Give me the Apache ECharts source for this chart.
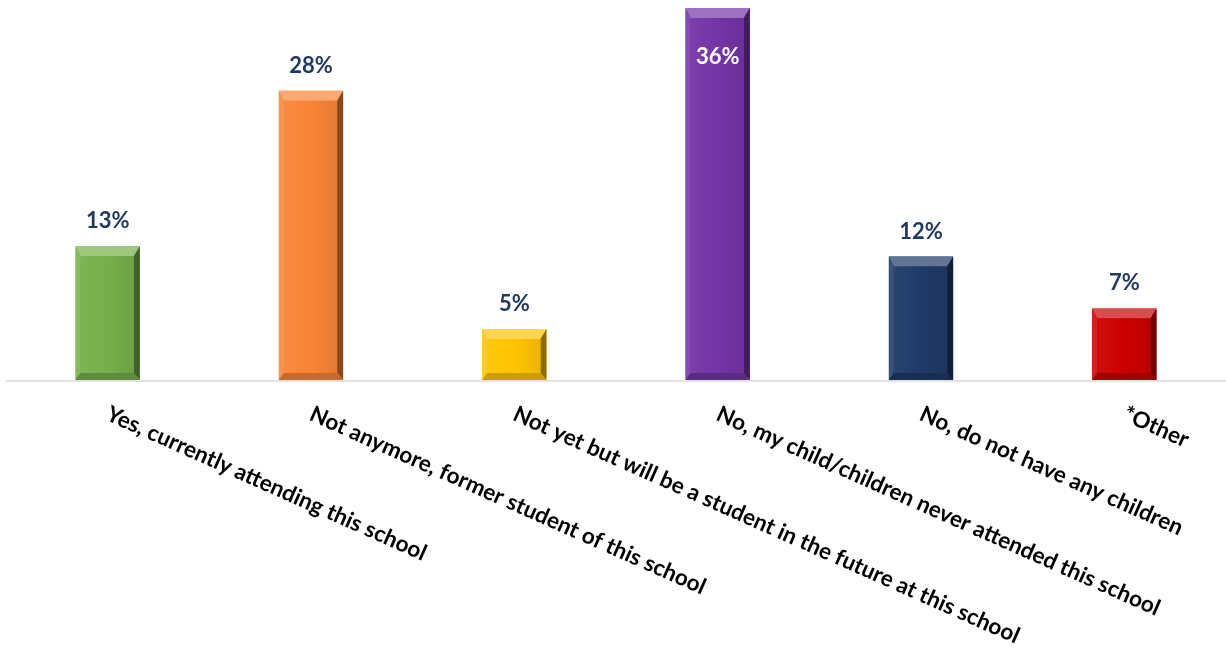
<!DOCTYPE html>
<html>
<head>
<meta charset="utf-8">
<script src="https://cdn.jsdelivr.net/npm/echarts@6/dist/echarts.min.js"></script>
<style>html,body{margin:0;padding:0;background:#fff;}#c{width:1226px;height:649px;}</style>
</head>
<body>
<div id="c"></div>
<script>
const categories = [
  "Yes, currently attending this school",
  "Not anymore, former student of this school",
  "Not yet but will be a student in the future at this school",
  "No, my child/children never attended this school",
  "No, do not have any children",
  "*Other"
];
const values = [13, 28, 5, 36, 12, 7];
const barColors = ["#76AF4A", "#F98436", "#FFC400", "#7434A6", "#1F3A68", "#CC0000"];

function shade(hex, f) {
  const n = parseInt(hex.slice(1), 16);
  let r = (n >> 16) & 255, g = (n >> 8) & 255, b = n & 255;
  if (f >= 0) { r += (255 - r) * f; g += (255 - g) * f; b += (255 - b) * f; }
  else { r *= (1 + f); g *= (1 + f); b *= (1 + f); }
  return 'rgb(' + Math.round(r) + ',' + Math.round(g) + ',' + Math.round(b) + ')';
}

const chart = echarts.init(document.getElementById('c'));
chart.setOption({
  animation: false,
  grid: { left: 6, right: 0, top: 8, bottom: 266 },
  xAxis: {
    type: 'category',
    data: categories,
    axisLine: { lineStyle: { color: '#d9d9d9', width: 1.5 } },
    axisTick: { show: false },
    axisLabel: {
      interval: 0, rotate: -24, margin: 32,
      fontFamily: 'Lato', fontWeight: 'bold', fontSize: 22.5, color: '#000'
    }
  },
  yAxis: { type: 'value', min: 0, max: 36, show: false, splitLine: { show: false } },
  series: [{
    type: 'custom',
    data: values.map((v, i) => [i, v]),
    renderItem: function (params, api) {
      const idx = api.value(0), v = api.value(1);
      const top = api.coord([idx, v]);
      const base = api.coord([idx, 0]);
      const bw = api.size([1, 0])[0] * 0.316;
      const x0 = top[0] - bw / 2, x1 = top[0] + bw / 2, y0 = top[1], y1 = base[1] - 1;
      const bt = 10, bl = 5, br = 6, bb = 7;
      const c = barColors[idx];
      const children = [
        { type: 'rect', shape: { x: x0, y: y0, width: bw, height: y1 - y0 }, style: { fill: c } },
        { type: 'polygon', shape: { points: [[x0, y0], [x1, y0], [x1 - br, y0 + bt], [x0 + bl, y0 + bt]] }, style: { fill: shade(c, 0.3) } },
        { type: 'polygon', shape: { points: [[x0, y0], [x0 + bl, y0 + bt], [x0 + bl, y1 - bb], [x0, y1]] }, style: { fill: shade(c, 0.12) } },
        { type: 'polygon', shape: { points: [[x1, y0], [x1, y1], [x1 - br, y1 - bb], [x1 - br, y0 + bt]] }, style: { fill: shade(c, -0.45) } },
        { type: 'polygon', shape: { points: [[x0, y1], [x0 + bl, y1 - bb], [x1 - br, y1 - bb], [x1, y1]] }, style: { fill: shade(c, -0.2) } },
        { type: 'rect', shape: { x: x0 + bl, y: y0 + bt, width: bw - bl - br, height: Math.max(0, y1 - bb - y0 - bt) },
          style: { fill: new echarts.graphic.LinearGradient(0, 0, 1, 0, [
            { offset: 0, color: shade(c, 0.05) }, { offset: 0.5, color: c }, { offset: 1, color: shade(c, -0.08) }]) } }
      ];
      const inside = (y0 - 27) < 20;
      children.push({
        type: 'text',
        style: {
          text: v + '%', x: top[0], y: inside ? y0 + 49 : y0 - 25,
          align: 'center', verticalAlign: 'middle',
          fill: inside ? '#ffffff' : '#1F3864',
          font: 'bold 22px Lato'
        }
      });
      return { type: 'group', children: children };
    }
  }]
});
</script>
</body>
</html>
